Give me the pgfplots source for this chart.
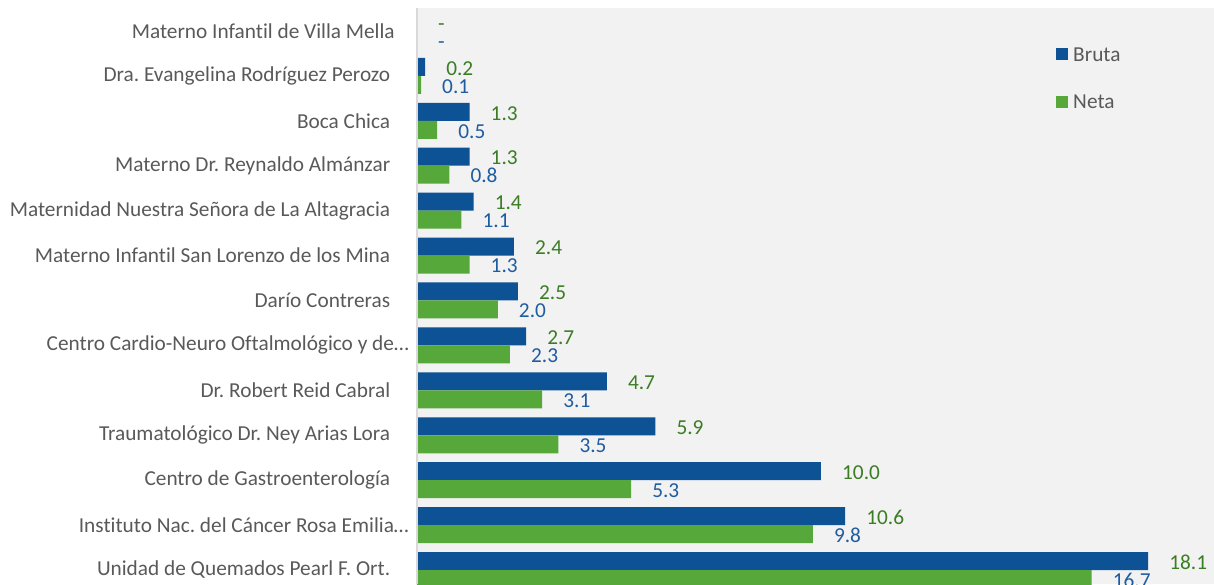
\documentclass[border=0pt]{standalone}
\usepackage{fontspec}
\setmainfont{Carlito}[Ligatures=NoCommon]
\usepackage{pgfplots}
\usepackage{pgfplotstable}
\pgfplotsset{compat=1.18}
\frenchspacing
\definecolor{brutac}{HTML}{0D5294}
\definecolor{netac}{HTML}{56A83A}
\definecolor{brutalab}{HTML}{3B7D23}
\definecolor{netalab}{HTML}{1F5CA0}
\definecolor{bggray}{HTML}{F2F2F2}
\definecolor{axgray}{HTML}{D9D9D9}
\definecolor{txtgray}{HTML}{595959}
\pgfplotstableread{
pos bruta neta blab nlab
0 18.1 16.7 18.1 16.7
1 10.6 9.8 10.6 9.8
2 10.0 5.3 10.0 5.3
3 5.9 3.5 5.9 3.5
4 4.7 3.1 4.7 3.1
5 2.7 2.3 2.7 2.3
6 2.5 2.0 2.5 2.0
7 2.4 1.3 2.4 1.3
8 1.4 1.1 1.4 1.1
9 1.3 0.8 1.3 0.8
10 1.3 0.5 1.3 0.5
11 0.2 0.1 0.2 0.1
12 0 0 - -
}\data
\newcommand{\fs}{\fontsize{21.3}{25}\selectfont\frenchspacing}
\begin{document}
\begin{tikzpicture}
\begin{axis}[
  at={(0,0)}, anchor=south west,
  width=797pt, height=576pt, scale only axis,
  xmin=0, xmax=19.73,
  ymin=-0.3117, ymax=12.512,
  axis background/.style={fill=bggray},
  axis line style={draw=none},
  xtick=\empty,
  ytick={0,...,12},
  yticklabels={
    Unidad de Quemados Pearl F. Ort.\kern4.6pt,
    Instituto Nac. del Cáncer Rosa Emilia…\kern-14pt,
    Centro de Gastroenterología\kern4.6pt,
    Traumatológico Dr. Ney Arias Lora\kern4.6pt,
    Dr. Robert Reid Cabral\kern4.6pt,
    Centro Cardio-Neuro Oftalmológico y de…\kern-14pt,
    Darío Contreras\kern4.6pt,
    Materno Infantil San Lorenzo de los Mina\kern4.6pt,
    Maternidad Nuestra Señora de La Altagracia\kern4.6pt,
    Materno Dr. Reynaldo Almánzar\kern4.6pt,
    Boca Chica\kern4.6pt,
    Dra. Evangelina Rodríguez Perozo\kern4.6pt,
    Materno Infantil de Villa Mella},
  major tick length=0pt,
  yticklabel style={font=\fs, color=txtgray, inner sep=0pt, xshift=-22pt},
  legend style={at={(0.8018,0.9314)}, anchor=north west, draw=none, fill=none,
    inner sep=0pt, row sep=32pt, column sep=5pt, font=\fs, text=txtgray,
    nodes={inner sep=0pt, anchor=base west}},
  legend cell align=left,
  legend image code/.code={\fill[#1,/tikz/.cd,draw=none] (0pt,1pt) rectangle (12pt,13pt);},
  extra description/.code={\draw[axgray, line width=1.5pt] (0,0) -- (0,1);},
]
\addplot[xbar, bar width=18pt, bar shift=9pt, fill=brutac, draw=none,
  point meta=explicit symbolic, nodes near coords={\pgfplotspointmeta},
  nodes near coords style={font=\fs, color=brutalab, anchor=west, inner sep=0pt,
    text height=13.5pt, text depth=0pt, xshift=21pt, yshift=7.5pt}]
  table[x=bruta, y=pos, meta=blab] {\data};
\addlegendentry{Bruta}
\addplot[xbar, bar width=18pt, bar shift=-9pt, fill=netac, draw=none,
  point meta=explicit symbolic, nodes near coords={\pgfplotspointmeta},
  nodes near coords style={font=\fs, color=netalab, anchor=west, inner sep=0pt,
    text height=13.5pt, text depth=0pt, xshift=21pt, yshift=-10.5pt}]
  table[x=neta, y=pos, meta=nlab] {\data};
\addlegendentry{Neta}
\end{axis}
\pgfresetboundingbox
\useasboundingbox (-417pt,0pt) rectangle (797pt,584pt);
\end{tikzpicture}
\end{document}
